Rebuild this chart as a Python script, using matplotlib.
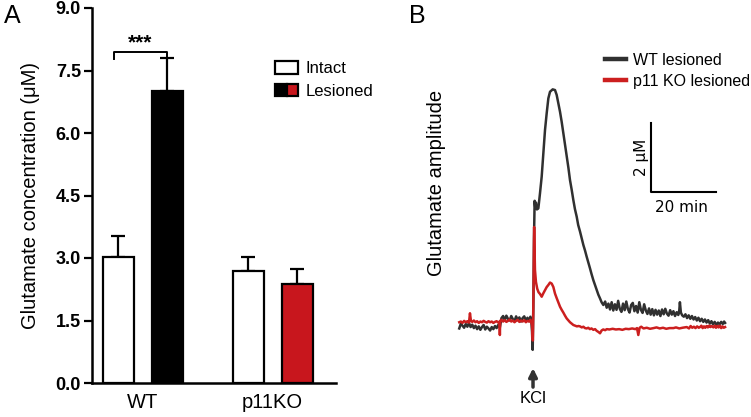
import matplotlib
matplotlib.use("Agg")
import matplotlib.pyplot as plt
from matplotlib.patches import Patch
from matplotlib.legend_handler import HandlerTuple

plt.rcParams['font.family'] = ['Liberation Sans', 'DejaVu Sans']

# ---------------- Panel A data ----------------
groups = ["WT", "p11KO"]
intact_mean = [3.03, 2.70]
intact_sem = [0.49, 0.32]
lesioned_mean = [7.02, 2.37]
lesioned_sem = [0.78, 0.36]
lesioned_colors = ["#000000", "#c8161d"]
yticks_a = [0.0, 1.5, 3.0, 4.5, 6.0, 7.5, 9.0]

# ---------------- Panel B data (time in min, amplitude in uM) ----------------
wt_t = [-22.7, -22.2, -21.7, -21.2, -20.7, -20.2, -19.7, -19.2, -18.7, -18.2,
        -17.7, -17.2, -16.7, -16.2, -15.7, -15.2, -14.7, -14.2, -13.7, -13.2,
        -12.7, -12.2, -11.7, -11.2, -10.7, -10.2, -9.7, -9.2, -8.7, -8.2,
        -7.7, -7.2, -6.7, -6.2, -5.7, -5.2, -4.7, -4.2, -3.7, -3.2,
        -2.7, -2.2, -1.7, -1.2, -0.8, -0.5, -0.3, -0.1, 0.1, 0.3,
        0.5, 0.7, 0.9, 1.2, 1.64, 2.15, 2.67, 3.18, 3.69, 4.21,
        4.72, 5.23, 6.05, 6.77, 7.28, 7.79, 8.31, 8.82, 9.33, 9.85,
        10.36, 10.9, 11.38, 11.9, 12.41, 12.9, 13.44, 13.9, 14.46, 15.0,
        15.49, 16.0, 16.51, 17.0, 17.54, 18.0, 18.56, 19.1, 19.59, 20.1,
        20.62, 21.1, 21.64, 22.2, 22.67, 23.2, 23.7, 24.2, 24.7, 25.2,
        25.7, 26.2, 26.7, 27.2, 27.7, 28.2, 28.7, 29.2, 29.7, 30.2,
        30.7, 31.2, 31.7, 32.2, 32.7, 33.2, 33.7, 34.2, 34.7, 35.2,
        35.7, 36.2, 36.7, 37.2, 37.7, 38.2, 38.7, 39.2, 39.7, 40.2,
        40.7, 41.2, 41.7, 42.2, 42.7, 43.2, 43.7, 44.2, 44.7, 45.0,
        45.2, 45.5, 45.9, 46.4, 46.9, 47.4, 47.9, 48.4, 48.9, 49.4,
        49.9, 50.4, 50.9, 51.4, 51.9, 52.4, 52.9, 53.4, 53.9, 54.4,
        54.9, 55.4, 55.9, 56.4, 56.9, 57.4, 57.9, 58.4, 58.8, 59.1]
wt_v = [-0.10, 0.04, -0.02, -0.08, 0.03, -0.05, 0.06, -0.06, 0.01, -0.09,
        -0.02, -0.12, -0.04, -0.14, -0.06, 0.00, -0.13, -0.05, -0.10, -0.16,
        -0.06, -0.12, -0.03, -0.09, 0.00, -0.07, 0.20, 0.26, 0.14, 0.27,
        0.18, 0.13, 0.26, 0.17, 0.11, 0.25, 0.14, 0.22, 0.10, 0.20,
        0.25, 0.13, 0.21, 0.11, 0.24, 0.08, -0.20, -0.72, 0.50, 2.50,
        3.60, 3.40, 3.55, 3.35, 3.38, 3.82, 4.30, 4.98, 5.65, 6.14,
        6.57, 6.76, 6.83, 6.81, 6.67, 6.43, 6.18, 5.89, 5.56, 5.22,
        4.88, 4.55, 4.20, 3.92, 3.62, 3.36, 3.14, 2.90, 2.71, 2.50,
        2.32, 2.16, 1.98, 1.82, 1.64, 1.48, 1.30, 1.15, 1.01, 0.88,
        0.77, 0.66, 0.58, 0.68, 0.50, 0.62, 0.45, 0.66, 0.42, 0.60,
        0.44, 0.70, 0.47, 0.38, 0.62, 0.43, 0.68, 0.46, 0.36, 0.58,
        0.64, 0.40, 0.55, 0.36, 0.66, 0.44, 0.35, 0.60, 0.42, 0.32,
        0.48, 0.30, 0.46, 0.28, 0.44, 0.30, 0.42, 0.26, 0.45, 0.31,
        0.47, 0.33, 0.27, 0.43, 0.30, 0.40, 0.26, 0.37, 0.29, 0.42,
        0.66, 0.36, 0.28, 0.24, 0.31, 0.20, 0.28, 0.18, 0.26, 0.16,
        0.23, 0.13, 0.21, 0.11, 0.18, 0.09, 0.16, 0.07, 0.14, 0.04,
        0.11, 0.02, 0.09, 0.00, 0.07, 0.02, 0.09, 0.03, 0.10, 0.06]

ko_t = [-22.7, -22.2, -21.7, -21.2, -20.7, -20.2, -19.7, -19.4, -19.1, -18.7,
        -18.2, -17.7, -17.2, -16.7, -16.2, -15.7, -15.2, -14.7, -14.2, -13.7,
        -13.2, -12.7, -12.2, -11.7, -11.2, -10.7, -10.3, -10.2, -10.1, -9.7,
        -9.2, -8.7, -8.2, -7.7, -7.2, -6.7, -6.2, -5.7, -5.2, -4.7,
        -4.2, -3.7, -3.2, -2.7, -2.2, -1.7, -1.2, -0.8, -0.5, -0.3,
        -0.05, 0.15, 0.35, 0.6, 0.9, 1.3, 1.7, 2.15, 2.67, 3.18,
        3.69, 4.21, 4.72, 5.23, 5.75, 6.26, 6.77, 7.28, 7.79, 8.31,
        8.82, 9.33, 9.85, 10.36, 10.9, 11.38, 11.9, 12.41, 13.0, 13.5,
        14.0, 14.46, 15.0, 15.5, 16.0, 16.51, 17.0, 17.5, 18.0, 18.56,
        19.1, 19.6, 20.1, 20.62, 21.1, 21.6, 22.2, 22.7, 23.5, 24.5,
        25.5, 26.5, 27.5, 28.5, 29.5, 30.5, 31.5, 32.0, 32.4, 32.8,
        33.3, 34.0, 35.0, 36.0, 37.1, 38.0, 39.0, 40.0, 41.0, 42.0,
        43.2, 44.0, 45.0, 46.0, 47.3, 48.0, 48.5, 49.0, 49.5, 50.0,
        50.5, 51.0, 51.4, 51.8, 52.2, 52.6, 53.0, 53.4, 53.8, 54.2,
        54.6, 55.0, 55.5, 55.9, 56.3, 56.7, 57.1, 57.5, 57.9, 58.3,
        58.7, 59.1]
ko_v = [0.08, 0.10, 0.06, 0.12, 0.08, 0.11, 0.07, 0.34, 0.12, 0.09,
        0.13, 0.08, 0.11, 0.06, 0.10, 0.08, 0.12, 0.09, 0.07, 0.11,
        0.08, 0.10, 0.06, 0.09, 0.11, 0.07, 0.10, -0.29, 0.12, 0.15,
        0.10, 0.14, 0.09, 0.12, 0.16, 0.10, 0.13, 0.08, 0.12, 0.15,
        0.09, 0.13, 0.10, 0.14, 0.08, 0.12, 0.10, 0.15, 0.06, 0.00,
        -0.45, 1.00, 2.84, 1.60, 1.25, 1.05, 0.95, 0.90, 0.82, 0.92,
        1.01, 1.10, 1.16, 1.23, 1.20, 1.10, 0.91, 0.78, 0.66, 0.53,
        0.44, 0.36, 0.27, 0.19, 0.13, 0.08, 0.04, 0.00, -0.02, -0.04,
        -0.03, -0.04, -0.07, -0.05, -0.09, -0.10, -0.08, -0.12, -0.10, -0.14,
        -0.12, -0.17, -0.20, -0.24, -0.16, -0.13, -0.15, -0.12, -0.13, -0.11,
        -0.13, -0.12, -0.14, -0.11, -0.12, -0.10, -0.12, -0.09, -0.29, -0.08,
        -0.05, -0.10, -0.08, -0.11, -0.09, -0.07, -0.10, -0.08, -0.11, -0.09,
        -0.09, -0.07, -0.10, -0.08, -0.06, -0.10, -0.03, -0.08, -0.05, -0.09,
        -0.04, -0.08, -0.06, -0.02, -0.09, -0.04, -0.08, -0.03, -0.07, -0.02,
        -0.06, -0.03, -0.07, -0.02, -0.08, -0.03, -0.07, -0.02, -0.09, -0.04,
        -0.08, -0.06]

trace_black = "#303030"
trace_red = "#cc1f1f"

# ---------------- Figure ----------------
W, H = 751, 417
fig = plt.figure(figsize=(W / 100, H / 100), dpi=100)

# Panel A axes
axA = fig.add_axes([92 / W, 1 - 383 / H, (336 - 92) / W, (383 - 8) / H])
x = [0, 1]
off = 0.189
bw = 0.24
axA.bar([xi - off for xi in x], intact_mean, bw, color="white", edgecolor="black",
        linewidth=1.6, zorder=2)
axA.bar([xi + off for xi in x], lesioned_mean, bw, color=lesioned_colors,
        edgecolor="black", linewidth=1.6, zorder=2)
axA.errorbar([xi - off for xi in x], intact_mean, yerr=[[0, 0], intact_sem],
             fmt="none", ecolor="black", elinewidth=1.6, capsize=5, capthick=1.6, zorder=1)
axA.errorbar([xi + off for xi in x], lesioned_mean, yerr=[[0, 0], lesioned_sem],
             fmt="none", ecolor="black", elinewidth=1.6, capsize=5, capthick=1.6, zorder=1)

axA.set_xlim(-0.393, 1.488)
axA.set_ylim(0, 9.0)
axA.set_yticks(yticks_a)
axA.set_yticklabels([f"{v:.1f}" for v in yticks_a], fontweight="bold", fontsize=13)
axA.set_xticks(x)
axA.set_xticklabels(groups, fontsize=14.5)
axA.tick_params(axis="x", length=0, pad=7)
axA.tick_params(axis="y", length=6, width=1.6, pad=2, direction="out")
for s in ["top", "right"]:
    axA.spines[s].set_visible(False)
for s in ["left", "bottom"]:
    axA.spines[s].set_linewidth(1.8)
axA.set_ylabel("Glutamate concentration (μM)", fontsize=14.5)
axA.yaxis.set_label_coords((40 - 92) / (336 - 92), 0.5)

# significance bracket
bx0, bx1, by = -0.221, 0.183, 7.95
axA.plot([bx0, bx0, bx1, bx1], [by - 0.17, by, by, by - 0.17], color="black", lw=1.4,
         clip_on=False)
axA.text((bx0 + bx1) / 2, by - 0.02, "***", ha="center", va="bottom", fontsize=15,
         fontweight="bold")

# legend A
h_int = Patch(facecolor="white", edgecolor="black", linewidth=1.6)
h_les = (Patch(facecolor="#000000", edgecolor="black", linewidth=1.6),
         Patch(facecolor="#c8161d", edgecolor="black", linewidth=1.6))
axA.legend([h_int, h_les], ["Intact", "Lesioned"],
           handler_map={tuple: HandlerTuple(ndivide=None, pad=0)},
           loc="upper left", bbox_to_anchor=(275 / W, 1 - 61 / H),
           bbox_transform=fig.transFigure, frameon=False, fontsize=12,
           handlelength=1.4, handleheight=0.8, handletextpad=0.45,
           labelspacing=0.45, borderpad=0, borderaxespad=0)

# Panel B axes
axB = fig.add_axes([440 / W, 0, 300 / W, (417 - 40) / H])
axB.plot(wt_t, wt_v, color=trace_black, lw=1.8, label="WT lesioned", zorder=2)
axB.plot(ko_t, ko_v, color=trace_red, lw=1.8, label="p11 KO lesioned", zorder=3)
axB.set_xlim(-28.62, 63.69)
axB.set_ylim(-2.667, 8.261)
axB.axis("off")

# scale bar
sb_t, sb_v = 36.3, 3.86
axB.plot([sb_t, sb_t, sb_t + 20], [sb_v + 2, sb_v, sb_v], color="black", lw=1.5)
axB.text(sb_t - 3.0, sb_v + 1.0, "2 μM", rotation=90, ha="center", va="center",
         fontsize=11, family="DejaVu Sans")
axB.text(sb_t + 9.5, sb_v - 0.45, "20 min", ha="center", va="center", fontsize=11,
         family="DejaVu Sans")

# KCl arrow
axB.annotate("", xy=(0, -1.25), xytext=(0, -1.80),
             arrowprops=dict(arrowstyle="-|>", color="#333333", lw=2.5,
                             mutation_scale=12, shrinkA=0, shrinkB=0))
axB.text(0, -2.12, "KCl", ha="center", va="center", fontsize=12)

legB = axB.legend(loc="upper left", bbox_to_anchor=(605 / W, 1 - 53 / H),
                  bbox_transform=fig.transFigure, frameon=False, fontsize=11.5,
                  handlelength=1.3, handletextpad=0.45, labelspacing=0.35,
                  borderpad=0, borderaxespad=0)
for ln in legB.get_lines():
    ln.set_linewidth(3.2)

fig.text(437 / W, 1 - 183 / H, "Glutamate amplitude", rotation=90, ha="center",
         va="center", fontsize=14.5)

# panel letters
fig.text(12 / W, 1 - 16 / H, "A", ha="center", va="center", fontsize=18)
fig.text(417 / W, 1 - 16 / H, "B", ha="center", va="center", fontsize=18)

fig.savefig("out.png", dpi=100)
